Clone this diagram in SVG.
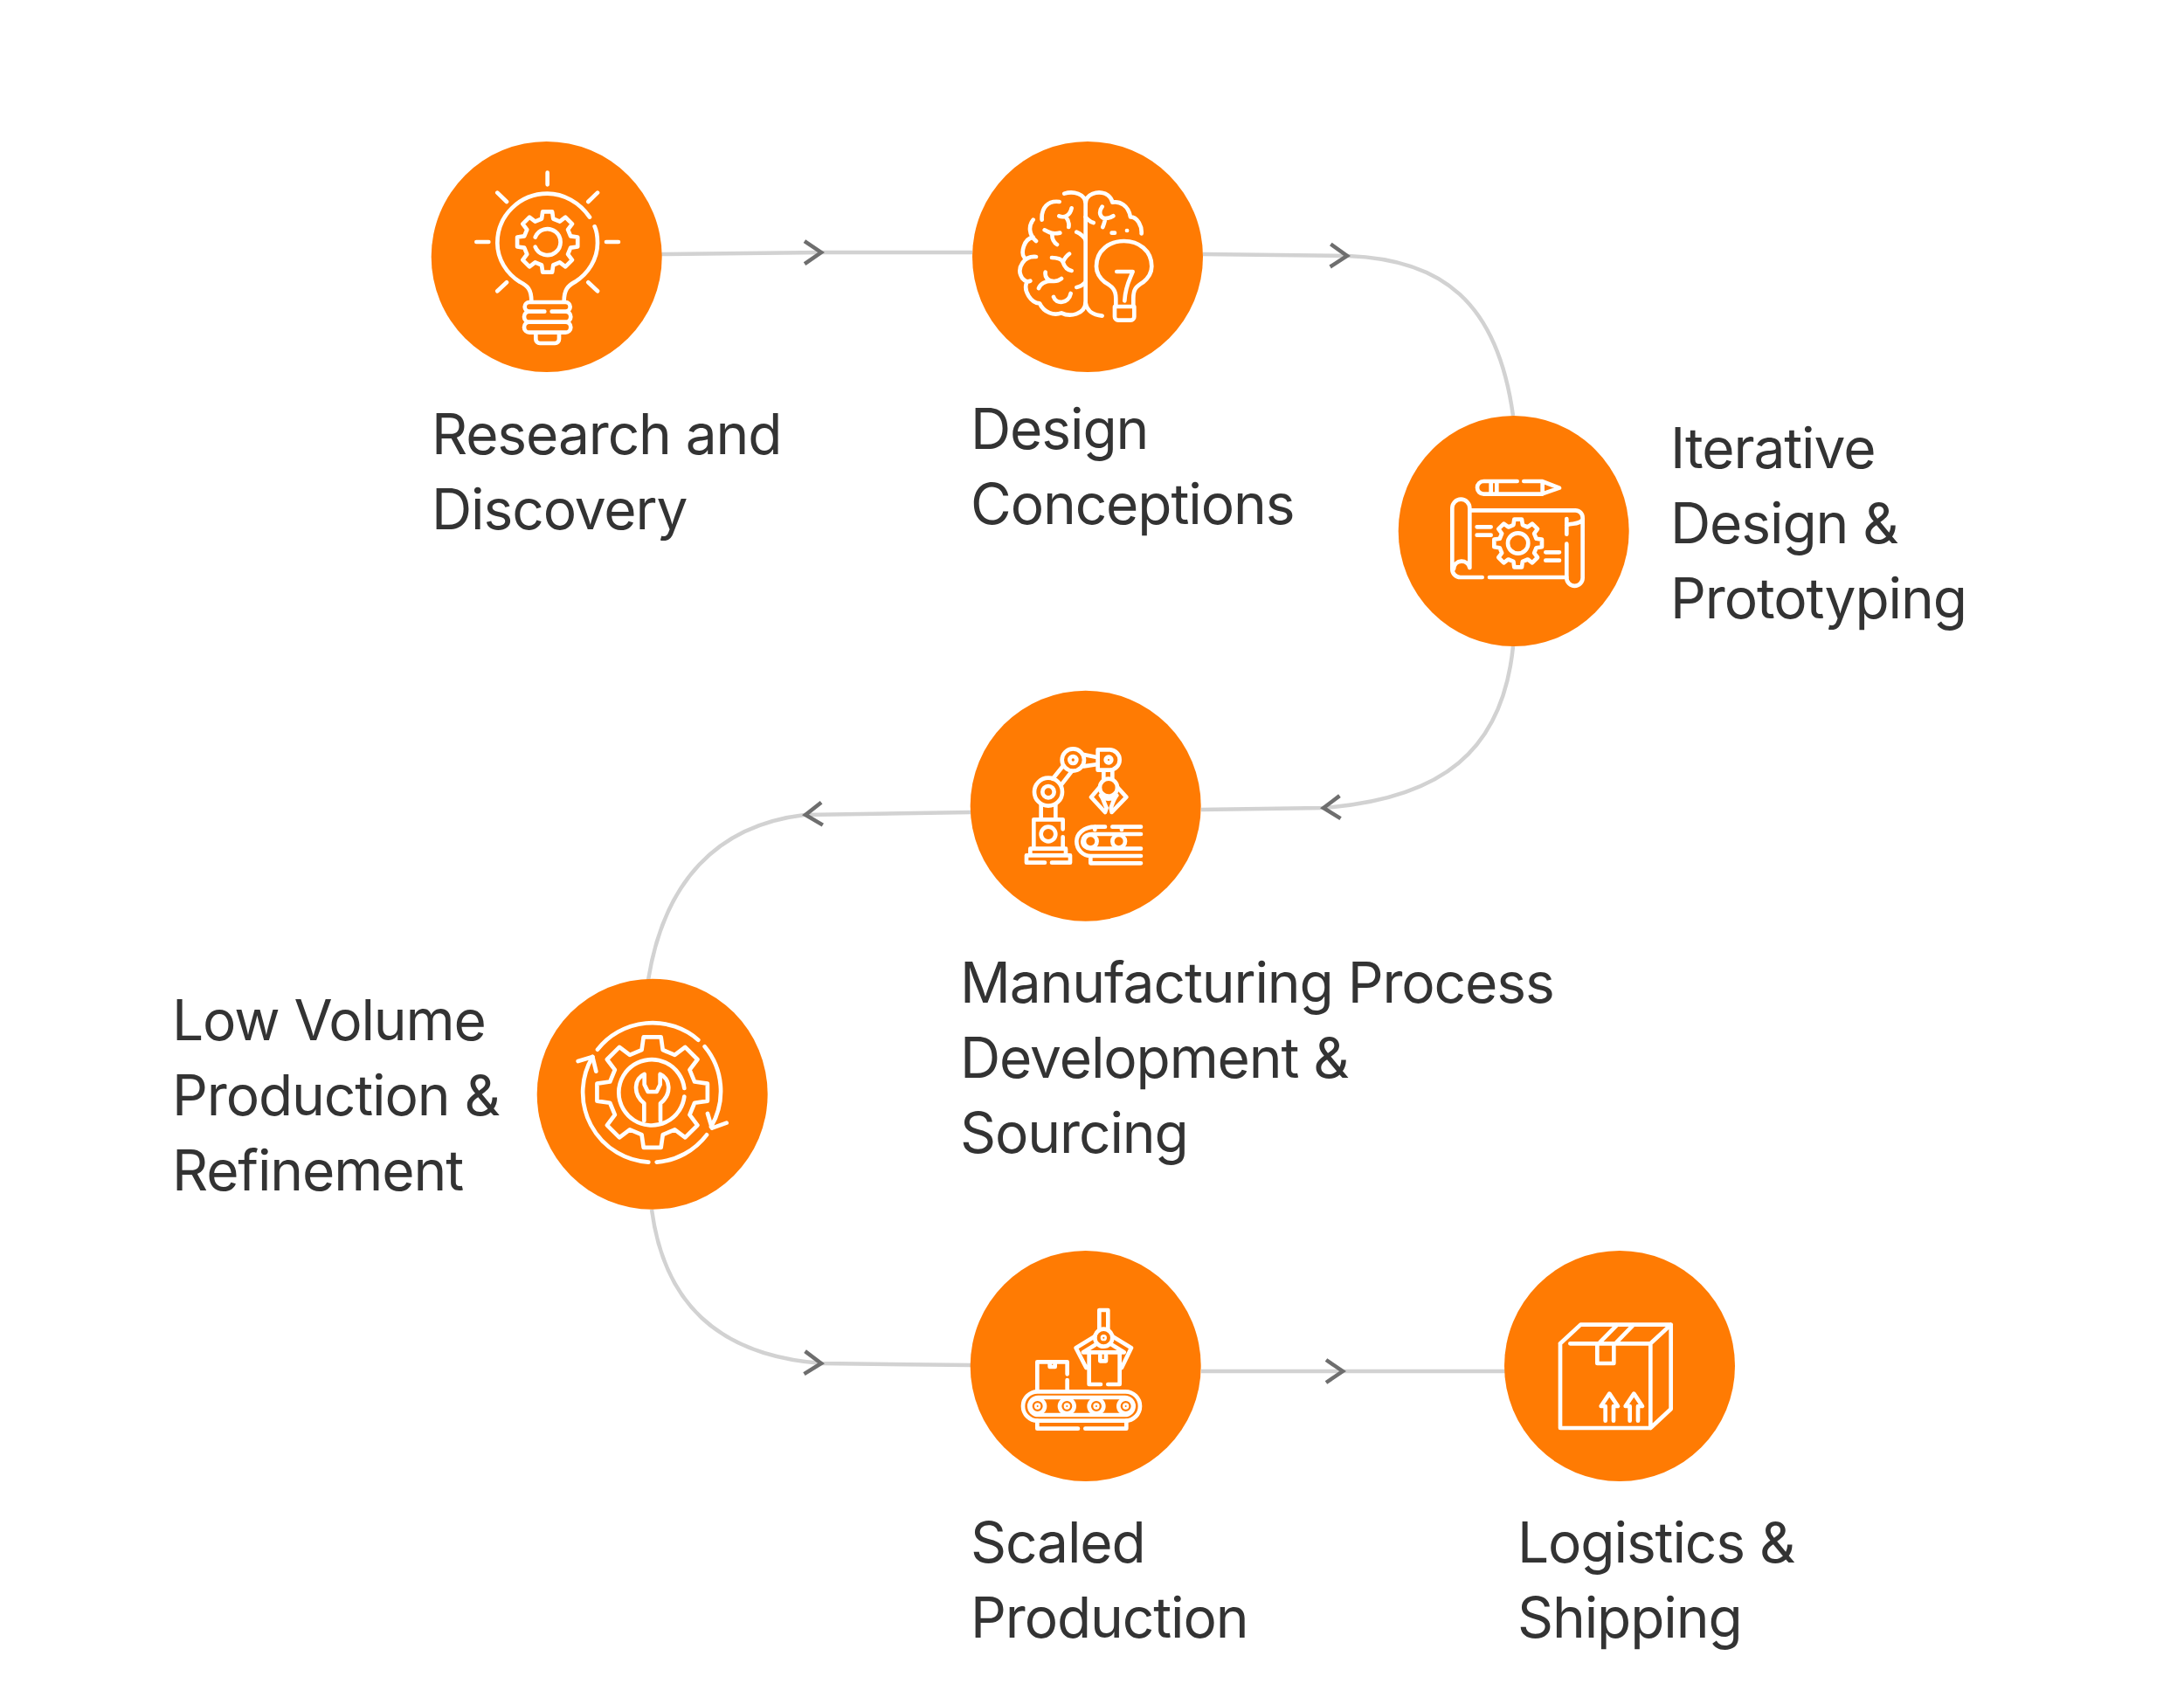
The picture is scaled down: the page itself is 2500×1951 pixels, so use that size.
<svg xmlns="http://www.w3.org/2000/svg" xmlns:xlink="http://www.w3.org/1999/xlink" width="2500" height="1951" viewBox="0 0 2500 1951">
<style>
.disc{fill:#ff7b03}
.ico{fill:none;stroke:#fff;stroke-width:14;stroke-linecap:round;stroke-linejoin:round}
.conn{fill:none;stroke:#d2d2d2;stroke-width:4.5;marker-mid:url(#chev)}
.lbl{font-family:Inter,"Liberation Sans",sans-serif;font-size:64px;font-weight:400;fill:#333;letter-spacing:-1.1px}
</style>
<defs>
<marker id="chev" markerUnits="userSpaceOnUse" viewBox="-26 -20 32 40" refX="0" refY="0" markerWidth="32" markerHeight="40" orient="auto"><path d="M-20,-13 L-1,0 L-20,13" fill="none" stroke="#6e6e6e" stroke-width="4.5"/></marker>
<path id="gear8" d="M-18.9,-75.7L-15.6,-98.8L15.6,-98.8L18.9,-75.7L40.2,-66.9L58.8,-80.9L80.9,-58.8L66.9,-40.2L75.7,-18.9L98.8,-15.6L98.8,15.6L75.7,18.9L66.9,40.2L80.9,58.8L58.8,80.9L40.2,66.9L18.9,75.7L15.6,98.8L-15.6,98.8L-18.9,75.7L-40.2,66.9L-58.8,80.9L-80.9,58.8L-66.9,40.2L-75.7,18.9L-98.8,15.6L-98.8,-15.6L-75.7,-18.9L-66.9,-40.2L-80.9,-58.8L-58.8,-80.9L-40.2,-66.9Z"/>
</defs>
<rect width="2500" height="1951" fill="#fff"/>
<g id="connectors">
<path class="conn" d="M757,291 L941,289 L1113,289"/>
<path class="conn" d="M1377,291 L1543,293 C1650,297 1714,345 1732,476"/>
<path class="conn" d="M1732,740 C1720,860 1650,915 1514,925 L1375,927"/>
<path class="conn" d="M1111,930 L921,933 C820,945 760,1010 742,1122"/>
<path class="conn" d="M746,1385 C760,1490 820,1552 941,1561 L1111,1563"/>
<path class="conn" d="M1375,1570 L1538,1570 L1723,1570"/>
</g>
<g id="node-research">
<circle class="disc" cx="625.7" cy="294" r="132"/>
<g class="ico" transform="translate(480,150) scale(.3333)">
<path d="M440,143V184M268,212L300,243M612,212L580,243M196,381H238M642,381H684M300,520L268,550M580,520L612,550"/>
<path d="M585,296C550,245 495,215 440,215C345,215 268,290 268,385C268,440 300,490 345,518C370,532 385,540 385,585M602,328C610,345 612,365 612,385C612,440 580,490 535,518C510,532 497,545 497,585"/>
<path d="M430,620H378a16,16 0 0 1 0,-32H502a16,16 0 0 1 0,32H455M378,620a18,18 0 0 0 0,36H502a18,18 0 0 0 0,-36M378,656a18,18 0 0 0 0,36H502a18,18 0 0 0 0,-36M400,692V715a14,14 0 0 0 14,14H466a14,14 0 0 0 14,-14V692"/>
<use href="#gear8" transform="translate(440,381) scale(1.05)" style="stroke-width:13.3"/>
<path d="M398,365A45,45 0 1 1 398,398"/>
</g>
</g>
<g id="node-design">
<circle class="disc" cx="1245" cy="294" r="132"/>
<g class="ico" transform="translate(1100,150) scale(.3333)">
<path d="M428,235V600M355,215C385,205 428,215 428,250C428,215 470,205 495,215C510,222 518,235 520,245C545,240 575,255 582,295C605,295 622,325 620,352"/>
<path d="M338,243C300,238 275,262 278,305M248,305C232,325 232,355 258,378M248,365C215,370 205,420 218,435M258,432C215,428 195,470 205,495C210,510 225,522 238,515M225,522C215,550 240,590 270,592C285,625 320,635 345,625C375,640 425,630 428,590C435,625 460,633 485,635"/>
<path d="M337,292C355,300 375,290 380,265M360,295C368,305 372,318 370,330M287,340C305,350 315,355 340,350M313,353C312,370 320,385 330,390M397,347C410,352 425,365 428,375M312,435C330,435 345,440 350,450C355,440 360,430 372,422M350,450C355,465 365,478 380,480M290,485C288,500 295,510 310,515C325,518 335,515 345,507M310,515C290,515 272,525 267,540M318,570C325,595 370,595 377,558M397,537C410,535 420,528 428,518"/>
<path d="M485,260C470,280 480,300 495,300C505,300 515,297 523,292M495,300C495,310 490,322 487,330M428,295C435,305 445,312 455,315M518,350H528M570,342H570.5"/>
<path d="M532,603V575C532,545 520,535 495,520C470,500 465,480 465,465C465,410 510,378 560,378C610,378 655,410 655,465C655,480 650,500 625,520C600,535 592,545 592,575V603M528,603H595V638a12,12 0 0 1 -12,12H540a12,12 0 0 1 -12,-12ZM535,483H590C580,510 565,530 562,583"/>
</g>
</g>
<g id="node-iterative">
<circle class="disc" cx="1732.7" cy="608" r="132"/>
<g class="ico" transform="translate(1590,470) scale(.3333)">
<path d="M440,243H325a22,22 0 0 0 0,44H525L585,266L525,243H463M350,245V287M370,245V287M527,245V287"/>
<path d="M277,540V335a30,30 0 0 0 -60,0V545a28,28 0 0 0 28,28H320M222,545C225,510 270,510 277,540M345,573H610"/>
<path d="M277,343H640a25,25 0 0 1 25,25V575a27,27 0 0 1 -55,0V458M610,425V372M610,395C625,385 650,395 665,375"/>
<path d="M302,400H350M302,428H350M538,487H585M538,515H585"/>
<use href="#gear8" transform="translate(443,456) scale(.83)" style="stroke-width:16.9"/>
<circle cx="443" cy="456" r="35"/>
</g>
</g>
<g id="node-manufacturing">
<circle class="disc" cx="1242.7" cy="922.7" r="132"/>
<g class="ico" transform="translate(1100,790) scale(.3333)">
<path d="M288,593H225V568H375V593H312M238,568V545H360V568M250,545V445H350V478M350,505V545M275,445V395M325,445V395"/>
<circle cx="300" cy="495" r="25"/>
<circle cx="300" cy="350" r="48"/>
<circle cx="300" cy="350" r="20"/>
<path d="M315,305L350,262M345,325L380,280M422,222L470,232M422,262L470,255"/>
<circle cx="385" cy="240" r="38"/>
<circle cx="385" cy="240" r="12"/>
<path d="M470,205H510a35,35 0 0 1 0,70H470ZM490,275V305M520,275V305"/>
<circle cx="507" cy="240" r="10"/>
<circle cx="507" cy="335" r="30"/>
<path d="M475,335L447,368L495,420L500,405C490,385 490,375 480,362Q507,385 535,362C525,375 522,385 515,405L518,420L568,368L538,335"/>
<path d="M495,470H462C420,470 397,495 397,520C397,550 420,570 445,570H618M520,470H618M618,495H450C425,495 418,510 418,520C418,535 430,545 445,545H618M445,570V595H618M460,470V480M552,470V480"/>
<circle cx="445" cy="520" r="22"/>
<circle cx="542" cy="520" r="22"/>
</g>
</g>
<g id="node-lowvolume">
<circle class="disc" cx="746.7" cy="1252.7" r="132"/>
<g class="ico" transform="translate(610,1120) scale(.3333)">
<use href="#gear8" transform="translate(410,392) scale(1.92)" style="stroke-width:7.3"/>
<path d="M520,378A113,113 0 1 0 520,407"/>
<path d="M383,330C350,345 340,395 382,430V490M437,330C470,345 480,395 438,430V490M383,330V365L395,390H425L437,365V330"/>
<path d="M222,245A240,240 0 0 1 568,212M590,235A240,240 0 0 1 612,510M597,538A240,240 0 0 1 425,632M397,632A240,240 0 0 1 205,270"/>
<path d="M155,285L205,270L217,320M600,465L615,515L665,497"/>
</g>
</g>
<g id="node-scaled">
<circle class="disc" cx="1242.7" cy="1564" r="132"/>
<g class="ico" transform="translate(1100,1430) scale(.3333)">
<path d="M475,275V210H505V275"/>
<circle cx="490" cy="305" r="30"/>
<circle cx="490" cy="305" r="4"/>
<path d="M460,300L395,340L430,408M520,300L585,340L552,408M420,355L460,330M560,355L520,330M420,355H560M440,358V465H480M505,465H545V358M478,365V385H498V365"/>
<path d="M262,485V388H365V430M365,450V485M305,390V405H323V390"/>
<rect x="213" y="490" width="402" height="100" rx="50"/>
<rect x="235" y="510" width="358" height="60" rx="30"/>
<circle cx="263" cy="540" r="25"/><circle cx="263" cy="540" r="4"/>
<circle cx="364" cy="540" r="25"/><circle cx="364" cy="540" r="4"/>
<circle cx="465" cy="540" r="25"/><circle cx="465" cy="540" r="4"/>
<circle cx="566" cy="540" r="25"/><circle cx="566" cy="540" r="4"/>
<path d="M262,590V617H402M427,617H568V590"/>
</g>
</g>
<g id="node-logistics">
<circle class="disc" cx="1854" cy="1564" r="132"/>
<g class="ico" transform="translate(1720,1430) scale(.3333)">
<path d="M198,325V615H508V325M198,325L268,260H578V550L508,615M508,325L578,260M232,325H508"/>
<path d="M325,325V393H382V325M335,320L392,262M392,320L448,262"/>
<path d="M353,590V540H338L367,497L396,540H381V590M437,590V540H422L451,497L480,540H465V590"/>
</g>
</g>
<g id="labels">
<text class="lbl" x="494" y="520">Research and</text>
<text class="lbl" x="494" y="606">Discovery</text>
<text class="lbl" x="1111" y="514">Design</text>
<text class="lbl" x="1111" y="600">Conceptions</text>
<text class="lbl" x="1912" y="536">Iterative</text>
<text class="lbl" x="1912" y="622">Design &amp;</text>
<text class="lbl" x="1912" y="708">Prototyping</text>
<text class="lbl" x="1099" y="1148">Manufacturing Process</text>
<text class="lbl" x="1099" y="1234">Development &amp;</text>
<text class="lbl" x="1099" y="1320">Sourcing</text>
<text class="lbl" x="197" y="1191">Low Volume</text>
<text class="lbl" x="197" y="1277">Production &amp;</text>
<text class="lbl" x="197" y="1363">Refinement</text>
<text class="lbl" x="1111" y="1789">Scaled</text>
<text class="lbl" x="1111" y="1875">Production</text>
<text class="lbl" x="1737" y="1789">Logistics &amp;</text>
<text class="lbl" x="1737" y="1875">Shipping</text>
</g>
</svg>
